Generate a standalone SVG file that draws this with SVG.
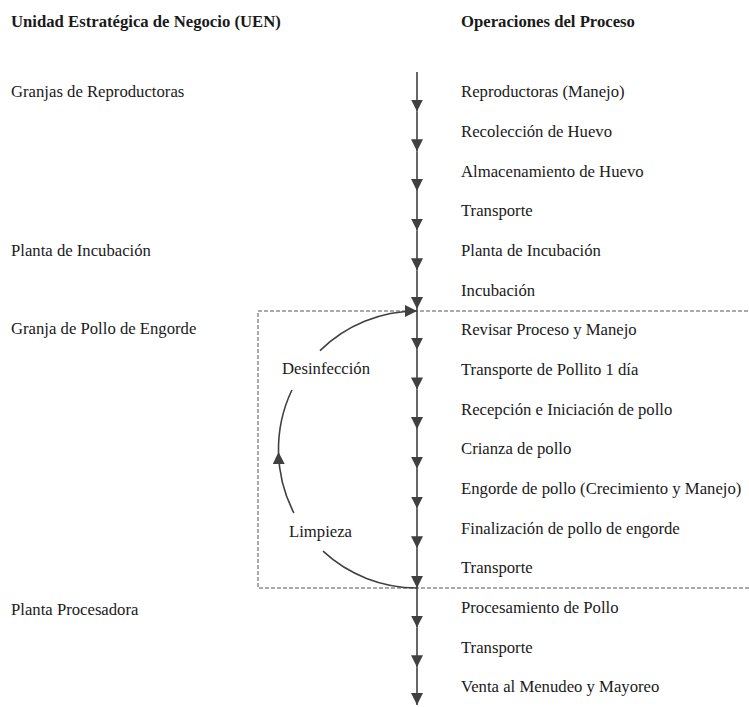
<svg xmlns="http://www.w3.org/2000/svg" width="749" height="707" viewBox="0 0 749 707">
  <style>
    text { font-family: "Liberation Serif", "Times New Roman", serif; font-size: 16.7px; fill: #1a1a1a; }
    .head { font-weight: bold; }
    .flow { stroke: #404040; stroke-width: 1.6; fill: none; marker-end: url(#arrow); }
    .arc { stroke: #404040; stroke-width: 1.6; fill: none; }
    .zone { stroke: #555; stroke-width: 1; stroke-dasharray: 4 2; fill: none; }
  </style>
  <defs>
    <marker id="arrow" markerUnits="userSpaceOnUse" markerWidth="12" markerHeight="12" refX="12" refY="6" orient="auto">
      <path d="M0,0 L12,6 L0,12 z" fill="#404040"/>
    </marker>
  </defs>
  <rect width="749" height="707" fill="#fff"/>

  <!-- column headings -->
  <g id="headings">
    <text class="head" x="11" y="27">Unidad Estratégica de Negocio (UEN)</text>
    <text class="head" x="461" y="27">Operaciones del Proceso</text>
  </g>

  <!-- business units -->
  <g id="uen">
    <text x="11" y="97">Granjas de Reproductoras</text>
    <text x="11" y="256">Planta de Incubación</text>
    <text x="11" y="334">Granja de Pollo de Engorde</text>
    <text x="11" y="615">Planta Procesadora</text>
  </g>

  <!-- broiler farm zone -->
  <g id="zone-engorde">
    <path class="zone" d="M760,311 H258 V588 H760"/>
  </g>

  <!-- process steps -->
  <g id="steps">
    <text id="s01" x="461" y="97">Reproductoras (Manejo)</text>
    <text id="s02" x="461" y="137">Recolección de Huevo</text>
    <text id="s03" x="461" y="177">Almacenamiento de Huevo</text>
    <text id="s04" x="461" y="216">Transporte</text>
    <text id="s05" x="461" y="256">Planta de Incubación</text>
    <text id="s06" x="461" y="296">Incubación</text>
    <text id="s07" x="461" y="335">Revisar Proceso y Manejo</text>
    <text id="s08" x="461" y="375">Transporte de Pollito 1 día</text>
    <text id="s09" x="461" y="415">Recepción e Iniciación de pollo</text>
    <text id="s10" x="461" y="454">Crianza de pollo</text>
    <text id="s11" x="461" y="494">Engorde de pollo (Crecimiento y Manejo)</text>
    <text id="s12" x="461" y="534">Finalización de pollo de engorde</text>
    <text id="s13" x="461" y="573">Transporte</text>
    <text id="s14" x="461" y="613">Procesamiento de Pollo</text>
    <text id="s15" x="461" y="653">Transporte</text>
    <text id="s16" x="461" y="692">Venta al Menudeo y Mayoreo</text>
  </g>

  <!-- cleaning cycle labels -->
  <g id="cycle-labels">
    <text x="282" y="374">Desinfección</text>
    <text x="289" y="537">Limpieza</text>
  </g>

  <!-- connectors -->
  <g id="connectors">
    <line class="flow" x1="417" y1="72" x2="417" y2="111.5"/>
    <line class="flow" x1="417" y1="111.5" x2="417" y2="151.2"/>
    <line class="flow" x1="417" y1="151.2" x2="417" y2="190.9"/>
    <line class="flow" x1="417" y1="190.9" x2="417" y2="230.6"/>
    <line class="flow" x1="417" y1="230.6" x2="417" y2="270.3"/>
    <line class="flow" x1="417" y1="270.3" x2="417" y2="309"/>
    <line class="flow" x1="417" y1="309" x2="417" y2="349.7"/>
    <line class="flow" x1="417" y1="349.7" x2="417" y2="389.4"/>
    <line class="flow" x1="417" y1="389.4" x2="417" y2="429.1"/>
    <line class="flow" x1="417" y1="429.1" x2="417" y2="468.8"/>
    <line class="flow" x1="417" y1="468.8" x2="417" y2="508.5"/>
    <line class="flow" x1="417" y1="508.5" x2="417" y2="548.2"/>
    <line class="flow" x1="417" y1="548.2" x2="417" y2="587.9"/>
    <line class="flow" x1="417" y1="587.9" x2="417" y2="627.6"/>
    <line class="flow" x1="417" y1="627.6" x2="417" y2="667.3"/>
    <line class="flow" x1="417" y1="667.3" x2="417" y2="705"/>

    <!-- cleaning / disinfection loop -->
    <path class="arc" d="M323,551.2 A138.5,138.5 0 0 0 417,588"/>
    <path class="flow" d="M293.9,513 A138.5,138.5 0 0 1 278.5,452"/>
    <path class="arc" d="M278.5,452 A138.5,138.5 0 0 1 291.9,390"/>
    <path class="flow" d="M320,350.6 A138.5,138.5 0 0 1 417,311"/>
  </g>
</svg>
